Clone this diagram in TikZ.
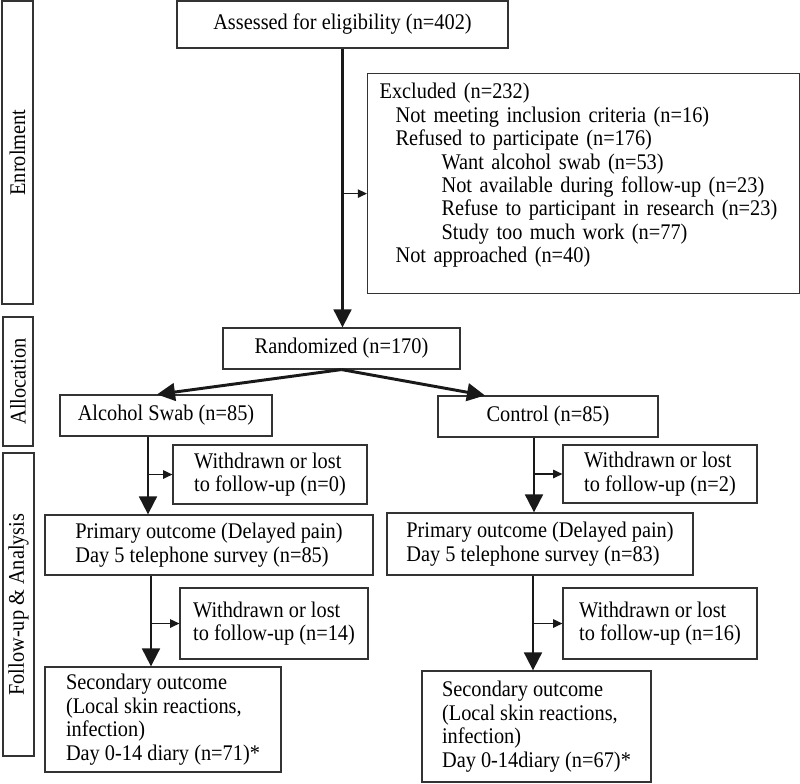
\documentclass[tikz,border=0pt]{standalone}
\usepackage{fontspec}
\setmainfont{Liberation Serif}[FakeStretch=0.91]
\usepackage{tikz}
\usetikzlibrary{arrows.meta, positioning}
\tikzstyle{block} = [draw=black!80, line width=0.8pt, rectangle, align=left, inner sep=0pt, font=\fontsize{15.9}{16.7}\selectfont]
\tikzstyle{phase} = [block, rotate=90, align=center]
\tikzstyle{mainarrow} = [draw=black!90, line width=2.1pt, -{Triangle[length=0.45cm, width=0.44cm]}]
\tikzstyle{sidearrow} = [draw=black!90, line width=0.9pt, -{Triangle[length=0.23cm, width=0.21cm]}]

\begin{document}
\begin{tikzpicture}[x=0.025cm, y=-0.025cm]
		\useasboundingbox (0,0) rectangle (800,783);
		% stages on the left
		\node [phase, minimum width=7.575cm, minimum height=0.775cm] (enrol) at (17.5,152.5) {Enrolment};
		\node [phase, minimum width=3.225cm, minimum height=0.75cm] (alloc) at (18,381.5) {Allocation};
		\node [phase, minimum width=7.575cm, minimum height=0.775cm] (follow) at (18.5,604.5) {Follow-up \& Analysis};
		% enrolment
		\node [block, align=center, minimum width=8.275cm, minimum height=1.175cm] (assess) at (342.5,24.5) {Assessed for eligibility (n=402)};
		\node [block, anchor=north west, text width=10.2cm, inner xsep=0.3cm, inner ysep=0.2cm, minimum height=5.5cm] (excl) at (367,73) {%
			Excluded (n=232)\\
			\hspace*{0.4cm}Not meeting inclusion criteria (n=16)\\
			\hspace*{0.4cm}Refused to participate (n=176)\\
			\hspace*{1.55cm}Want alcohol swab (n=53)\\
			\hspace*{1.55cm}Not available during follow-up (n=23)\\
			\hspace*{1.55cm}Refuse to participant in research (n=23)\\
			\hspace*{1.55cm}Study too much work (n=77)\\
			\hspace*{0.4cm}Not approached (n=40)\rule[-0.53cm]{0pt}{0.6cm}};
		% allocation
		\node [block, align=center, minimum width=5.925cm, minimum height=1.025cm] (random) at (341.5,348.5) {Randomized (n=170)};
		\node [block, align=center, minimum width=5.3cm, minimum height=1.025cm] (alc) at (166,415.5) {Alcohol Swab (n=85)};
		\node [block, align=center, minimum width=5.5cm, minimum height=1.025cm] (ctrl) at (548,416.5) {Control (n=85)};
		% follow-up, alcohol swab arm
		\node [block, minimum width=4.85cm, minimum height=1.475cm] (wdalc) at (270,474.5) {Withdrawn or lost\\to follow-up (n=0)};
		\node [block, minimum width=8.2cm, minimum height=1.5cm] (primalc) at (209,545) {Primary outcome (Delayed pain)\\Day 5 telephone survey (n=85)};
		\node [block, minimum width=4.7cm, minimum height=1.775cm] (wdalcb) at (274,623.5) {Withdrawn or lost\\to follow-up (n=14)};
		\node [block, minimum width=5.9cm, minimum height=2.625cm] (secalc) at (163,719.5) {Secondary outcome\\(Local skin reactions,\\infection)\\Day 0-14 diary (n=71)*};
		% follow-up, control arm
		\node [block, minimum width=4.85cm, minimum height=1.45cm] (wdctrl) at (660,474) {Withdrawn or lost\\to follow-up (n=2)};
		\node [block, minimum width=7.65cm, minimum height=1.55cm] (primctrl) at (540,544) {Primary outcome (Delayed pain)\\Day 5 telephone survey (n=83)};
		\node [block, minimum width=4.85cm, minimum height=1.775cm] (wdctrlb) at (660,623.5) {Withdrawn or lost\\to follow-up (n=16)};
		\node [block, minimum width=5.725cm, minimum height=2.775cm] (secctrl) at (536.5,726.5) {Secondary outcome\\(Local skin reactions,\\infection)\\Day 0-14diary (n=67)*};
		% connectors
		\coordinate (exclin) at ([yshift=-0.25cm]excl.west);
		\coordinate (a1) at ([xshift=-0.45cm]alc.south);
		\coordinate (c1) at ([xshift=-0.35cm]ctrl.south);
		\coordinate (a2) at ([xshift=-1.45cm]primalc.south);
		\coordinate (c2) at ([xshift=-0.175cm]primctrl.south);
		\draw [mainarrow] (assess.south) -- (assess.south |- random.north);
		\draw [sidearrow] (assess.south |- exclin) -- (exclin);
		\draw [mainarrow] (random.south) -- ([xshift=-0.225cm]alc.north);
		\draw [mainarrow] (random.south) -- ([xshift=-1.575cm]ctrl.north);
		\draw [mainarrow] (a1) -- (a1 |- primalc.north);
		\draw [sidearrow] (a1 |- wdalc.west) -- (wdalc.west);
		\draw [mainarrow] (c1) -- (c1 |- primctrl.north);
		\draw [sidearrow] (c1 |- wdctrl.west) -- (wdctrl.west);
		\draw [mainarrow] (a2) -- (a2 |- secalc.north);
		\draw [sidearrow] (a2 |- wdalcb.west) -- (wdalcb.west);
		\draw [mainarrow] (c2) -- (c2 |- secctrl.north);
		\draw [sidearrow] (c2 |- wdctrlb.west) -- (wdctrlb.west);
	\end{tikzpicture}
\end{document}
